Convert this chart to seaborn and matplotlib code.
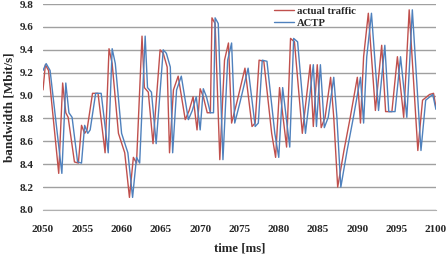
import numpy as np
import matplotlib
matplotlib.use('Agg')
import matplotlib.pyplot as plt
import pandas as pd
import seaborn as sns

# actual traffic (red)
traffic_t = [2050.0, 2050.3, 2050.7, 2052.0, 2052.5, 2052.9, 2053.2, 2054.0, 2054.5,
             2054.9, 2055.3, 2055.6, 2056.3, 2057.0, 2057.9, 2058.4, 2058.8, 2059.6,
             2060.4, 2061.0, 2061.5, 2061.9, 2062.6, 2062.9, 2063.4, 2064.0, 2064.9,
             2065.3, 2065.8, 2066.1, 2066.6, 2067.2, 2068.1, 2068.6, 2069.1, 2069.6,
             2070.0, 2070.4, 2070.9, 2071.3, 2071.5, 2071.9, 2072.5, 2073.1, 2073.6,
             2074.0, 2074.7, 2075.7, 2076.6, 2077.0, 2077.5, 2078.1, 2079.1, 2079.6,
             2080.1, 2081.0, 2081.5, 2082.0, 2083.0, 2084.0, 2084.4, 2084.9, 2085.4,
             2085.9, 2086.6, 2087.0, 2087.5, 2088.3, 2089.1, 2090.0, 2090.4, 2090.8,
             2091.4, 2092.3, 2093.1, 2093.6, 2094.4, 2095.1, 2095.9, 2096.6, 2097.7,
             2098.3, 2099.2, 2099.7, 2100.0]
traffic_bw = [9.05, 9.27, 9.22, 8.32, 9.11, 8.85, 8.81, 8.42, 8.41,
              8.74, 8.67, 8.70, 9.02, 9.02, 8.50, 9.41, 9.28, 8.67,
              8.50, 8.11, 8.46, 8.41, 9.52, 9.07, 9.03, 8.58, 9.40,
              9.37, 9.25, 8.50, 9.05, 9.17, 8.79, 8.87, 8.99, 8.70,
              9.06, 8.99, 8.85, 8.85, 9.68, 9.63, 8.44, 9.31, 9.46,
              8.76, 8.95, 9.24, 8.73, 8.76, 9.31, 9.30, 8.67, 8.46,
              9.07, 8.55, 9.50, 9.47, 8.67, 9.27, 8.73, 9.27, 8.72,
              8.81, 9.16, 8.81, 8.20, 8.52, 8.81, 9.16, 8.76, 9.34,
              9.72, 8.87, 9.44, 8.86, 8.86, 9.34, 8.81, 9.75, 8.52,
              8.96, 9.01, 9.02, 8.90]

# ACTP prediction (blue)
actp_t = [2050.0, 2050.4, 2050.9, 2052.4, 2052.9, 2053.3, 2053.7, 2054.4, 2054.9,
          2055.3, 2055.7, 2056.0, 2056.7, 2057.4, 2058.3, 2058.8, 2059.2, 2060.0,
          2060.8, 2061.4, 2061.9, 2062.3, 2063.0, 2063.3, 2063.8, 2064.4, 2065.3,
          2065.7, 2066.2, 2066.5, 2067.0, 2067.6, 2068.5, 2069.0, 2069.5, 2070.0,
          2070.4, 2070.8, 2071.3, 2071.7, 2071.9, 2072.3, 2072.9, 2073.5, 2074.0,
          2074.4, 2075.1, 2076.1, 2077.0, 2077.4, 2077.9, 2078.5, 2079.5, 2080.0,
          2080.5, 2081.4, 2081.9, 2082.4, 2083.4, 2084.4, 2084.8, 2085.3, 2085.8,
          2086.3, 2087.0, 2087.4, 2087.9, 2088.7, 2089.5, 2090.4, 2090.8, 2091.2,
          2091.8, 2092.7, 2093.5, 2094.0, 2094.8, 2095.5, 2096.3, 2097.0, 2098.1,
          2098.7, 2099.6, 2100.0]
actp_bw = [9.22, 9.28, 9.22, 8.32, 9.11, 8.85, 8.81, 8.42, 8.41,
           8.74, 8.67, 8.70, 9.02, 9.02, 8.50, 9.41, 9.28, 8.67,
           8.50, 8.11, 8.46, 8.41, 9.52, 9.07, 9.03, 8.58, 9.40,
           9.37, 9.25, 8.50, 9.05, 9.17, 8.79, 8.87, 8.99, 8.70,
           9.06, 8.99, 8.85, 8.85, 9.68, 9.63, 8.44, 9.31, 9.46,
           8.76, 8.95, 9.24, 8.73, 8.76, 9.31, 9.30, 8.67, 8.46,
           9.07, 8.55, 9.50, 9.47, 8.67, 9.27, 8.73, 9.27, 8.72,
           8.81, 9.16, 8.81, 8.20, 8.52, 8.81, 9.16, 8.76, 9.34,
           9.72, 8.87, 9.44, 8.86, 8.86, 9.34, 8.81, 9.75, 8.52,
           8.96, 9.01, 8.88]

frame = pd.concat([
    pd.DataFrame({'time': traffic_t, 'bw': traffic_bw, 'series': 'actual traffic'}),
    pd.DataFrame({'time': actp_t, 'bw': actp_bw, 'series': 'ACTP'}),
])

sns.set_style('white')
plt.rcParams['font.family'] = ['Liberation Serif', 'DejaVu Serif']
plt.rcParams['font.weight'] = 'bold'

fig = plt.figure(figsize=(4.48, 2.57), dpi=100)
ax = fig.add_axes([0.096, 0.183, 0.877, 0.801])

sns.lineplot(data=frame, x='time', y='bw', hue='series', sort=False,
             estimator=None, palette=['#c0504d', '#4f81bd'], linewidth=1.0, ax=ax)

ax.set_xlim(2050, 2100)
ax.set_ylim(8.0, 9.8)
ax.set_xticks(np.arange(2050, 2101, 5))
ax.set_yticks(np.arange(8.0, 9.81, 0.2))
ax.set_yticklabels(['%.1f' % v for v in np.arange(8.0, 9.81, 0.2)])
ax.yaxis.grid(True, color='#a0a0a0', linewidth=1.0)
ax.set_axisbelow(True)
for s in ['top', 'right', 'left']:
    ax.spines[s].set_visible(False)
ax.spines['bottom'].set_color('#b0b0b0')
ax.tick_params(axis='x', direction='inout', length=4, color='#b0b0b0',
               labelsize=8, pad=9)
ax.tick_params(axis='y', length=0, labelsize=8, pad=7)
for lab in ax.get_xticklabels() + ax.get_yticklabels():
    lab.set_fontweight('bold')

ax.set_xlabel('time [ms]', fontsize=9.2, fontweight='bold', labelpad=6)
ax.set_ylabel('bandwidth [Mbit/s]', fontsize=9.5, fontweight='bold', labelpad=3)

leg = ax.legend(loc='upper right', bbox_to_anchor=(0.796, 0.99), frameon=False,
                fontsize=7.7, handlelength=1.8, handletextpad=0.3,
                labelspacing=0.25, borderaxespad=0, borderpad=0)
for t in leg.get_texts():
    t.set_fontweight('bold')

fig.savefig('out.png', dpi=100)
